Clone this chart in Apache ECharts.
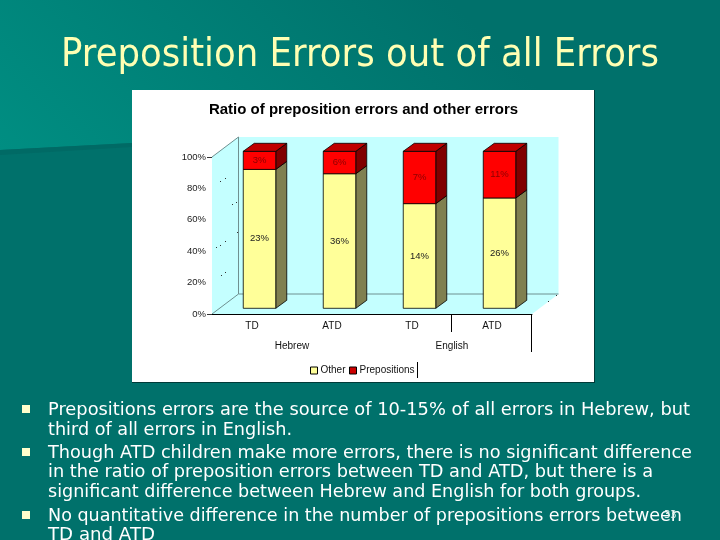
<!DOCTYPE html>
<html>
<head>
<meta charset="utf-8">
<style>html,body{margin:0;padding:0;background:#00706a}#c{width:720px;height:540px}</style>
<script src="https://cdn.jsdelivr.net/npm/echarts@6/dist/echarts.min.js"></script>
</head>
<body>
<div id="c"></div>
<script>
const groups = ['TD', 'ATD', 'TD', 'ATD'];
const languages = ['Hebrew', 'English'];
const otherErrors = [23, 36, 14, 26];
const prepositionErrors = [3, 6, 7, 11];
const yTicks = [0, 20, 40, 60, 80, 100];
const slideTitle = 'Preposition Errors out of all Errors';
const chartTitle = 'Ratio of preposition errors and other errors';
const bodyLines = [
  'Prepositions errors are the source of 10-15% of all errors in Hebrew, but',
  'third of all errors in English.',
  'Though ATD children make more errors, there is no significant difference',
  'in the ratio of preposition errors between TD and ATD, but there is a',
  'significant difference between Hebrew and English for both groups.',
  'No quantitative difference in the number of prepositions errors between',
  'TD and ATD'
];

const bodyRight = [690, 292, 692, 653, 641, 682, 155];
const bodyY = [410, 430, 453, 472, 492, 516, 535];
const bulletY = [409, 452, 515];
const TEXT_FONT = '"DejaVu Sans"';

const measure = document.createElement('canvas').getContext('2d');
function fitScale(text, font, width) {
  measure.font = font;
  return width / measure.measureText(text).width;
}
function fitText(text, x, y, size, right, fill) {
  const font = size + 'px ' + TEXT_FONT;
  return {
    type: 'text', x: x, y: y, z: 50, silent: true,
    scaleX: fitScale(text, font, right - x),
    style: { text: text, font: font, fill: fill, textVerticalAlign: 'middle', textAlign: 'left' }
  };
}

// 3D depth of the box and of the chart's walls
const BAR = { dx: 11, dy: -8, shiftX: 7.5, shiftY: -5.7, width: 32.5 };
const WALL = { dx: 26.5, dy: -20 };

function barRenderer(front, side, top, labelColor, withTop) {
  return function (params, api) {
    const i = api.value(0);
    const a = api.coord([i, api.value(1)]);
    const b = api.coord([i, api.value(2)]);
    const x0 = a[0] + BAR.shiftX - BAR.width / 2;
    const x1 = x0 + BAR.width;
    const y0 = a[1] + BAR.shiftY;
    const y1 = b[1] + BAR.shiftY;
    const stroke = { stroke: '#000', lineWidth: 0.8 };
    const children = [
      { type: 'polygon', shape: { points: [[x1, y0], [x1 + BAR.dx, y0 + BAR.dy], [x1 + BAR.dx, y1 + BAR.dy], [x1, y1]] },
        style: Object.assign({ fill: side }, stroke) },
      { type: 'rect', shape: { x: x0, y: y1, width: BAR.width, height: y0 - y1 },
        style: Object.assign({ fill: front }, stroke) },
      { type: 'text', x: x0 + BAR.width / 2, y: (y0 + y1) / 2, z2: 5,
        style: { text: api.value(3) + '%', fill: labelColor, font: '9.5px "Liberation Sans"', textAlign: 'center', textVerticalAlign: 'middle' } }
    ];
    if (withTop) {
      children.push({ type: 'polygon', shape: { points: [[x0, y1], [x0 + BAR.dx, y1 + BAR.dy], [x1 + BAR.dx, y1 + BAR.dy], [x1, y1]] },
        style: Object.assign({ fill: top }, stroke) });
    }
    return { type: 'group', children: children };
  };
}

const otherData = groups.map((g, i) => {
  const total = otherErrors[i] + prepositionErrors[i];
  return [i, 0, otherErrors[i] / total * 100, otherErrors[i]];
});
const prepData = groups.map((g, i) => {
  const total = otherErrors[i] + prepositionErrors[i];
  return [i, otherErrors[i] / total * 100, 100, prepositionErrors[i]];
});

const gx0 = 212, gx1 = 532, gy0 = 157, gy1 = 314;
const wallFill = '#C4FFFF';
const wallLine = '#6F9090';

const specks = [[220, 181], [225, 178], [232, 204], [236, 202], [237, 232], [216, 247], [220, 245], [225, 241], [221, 275], [225, 272], [548, 301], [556, 295]];

function line(x1, y1, x2, y2, color, z) {
  return { type: 'line', z: z, silent: true, shape: { x1, y1, x2, y2 }, style: { stroke: color, lineWidth: 1 } };
}

const graphics = [
  { type: 'rect', z: -30, silent: true, shape: { x: 0, y: 0, width: 720, height: 540 }, style: { fill: '#00716B' } },
  { type: 'polygon', z: -29, silent: true, shape: { points: [[0, 0], [720, 0], [720, 112], [0, 150]] },
    style: { fill: { type: 'linear', global: true, x: 0, y: 150, x2: 300, y2: -150, colorStops: [{ offset: 0, color: '#008E82' }, { offset: 1, color: '#00716B' }] } } },
  { type: 'polygon', z: -28, silent: true, shape: { points: [[0, 150], [132, 143], [132, 147], [0, 155]] }, style: { fill: '#006A65' } },
  { type: 'rect', z: -27, silent: true, shape: { x: 132, y: 90, width: 462, height: 292 }, style: { fill: '#FFFFFF' } },
  line(594.5, 90, 594.5, 382, '#003A38', -26),
  line(132, 382.5, 595, 382.5, '#003A38', -26),
  { type: 'polygon', z: -25, silent: true, shape: { points: [[gx0, gy0], [gx0 + WALL.dx, gy0 + WALL.dy], [gx1 + WALL.dx, gy0 + WALL.dy], [gx1 + WALL.dx, gy1 + WALL.dy], [gx1, gy1], [gx0, gy1]] }, style: { fill: wallFill } },
  line(gx0, gy0, gx0 + WALL.dx, gy0 + WALL.dy, wallLine, -24),
  line(gx0, gy1, gx0 + WALL.dx, gy1 + WALL.dy, wallLine, -24),
  line(gx0 + WALL.dx, gy0 + WALL.dy, gx0 + WALL.dx, gy1 + WALL.dy, wallLine, -24),
  line(gx0 + WALL.dx, gy1 + WALL.dy, gx1 + WALL.dx, gy1 + WALL.dy, wallLine, -24),
  line(451.5, gy1, 451.5, 332, '#000', 10),
  line(531.5, gy1, 531.5, 352, '#000', 10),
  line(417.5, 362, 417.5, 378, '#000', 10),
  fitText(slideTitle, 61, 56, 38.5, 659, '#FFFFB3')
];
specks.forEach(p => graphics.push({ type: 'rect', z: -20, silent: true, shape: { x: p[0], y: p[1], width: 1, height: 1 }, style: { fill: '#333' } }));
bodyLines.forEach((t, i) => graphics.push(fitText(t, 48, bodyY[i], 18.3, bodyRight[i], '#FFFFFF')));
bulletY.forEach(y => graphics.push({ type: 'rect', z: 50, silent: true, shape: { x: 22, y: y - 4, width: 8, height: 8 }, style: { fill: '#FFFFCC' } }));
graphics.push({ type: 'text', x: 664, y: 515, z: 51, silent: true, style: { text: '33', font: '10px "DejaVu Sans"', fill: '#D8EEE8', textVerticalAlign: 'middle' } });

const chart = echarts.init(document.getElementById('c'), null, { renderer: 'canvas' });
chart.setOption({
  animation: false,
  title: {
    text: chartTitle, left: 358.5, top: 97, textAlign: 'center',
    textStyle: { fontFamily: 'Liberation Sans', fontWeight: 'bold', fontSize: 15, color: '#000' }
  },
  legend: {
    left: 305, top: 360.5, itemWidth: 7, itemHeight: 7, itemGap: 3.5, icon: 'rect',
    textStyle: { fontFamily: 'Liberation Sans', fontSize: 10, color: '#111', padding: [0, 0, 0, -2] },
    data: [
      { name: 'Other', itemStyle: { color: '#FFFF99', borderColor: '#000', borderWidth: 1 } },
      { name: 'Prepositions', itemStyle: { color: '#CC0000', borderColor: '#000', borderWidth: 1 } }
    ]
  },
  grid: { left: gx0, top: gy0, width: gx1 - gx0, height: gy1 - gy0 },
  xAxis: [
    { type: 'category', data: groups, position: 'bottom',
      axisLine: { lineStyle: { color: '#000', width: 1 } }, axisTick: { show: false },
      axisLabel: { margin: 7, color: '#111', fontSize: 10, fontFamily: 'Liberation Sans' } },
    { type: 'category', data: languages, position: 'bottom', offset: 20,
      axisLine: { show: false }, axisTick: { show: false },
      axisLabel: { margin: 7, color: '#111', fontSize: 10, fontFamily: 'Liberation Sans' } }
  ],
  yAxis: {
    type: 'value', min: yTicks[0], max: yTicks[yTicks.length - 1], interval: yTicks[1] - yTicks[0],
    splitLine: { show: false }, axisLine: { show: false },
    axisTick: { show: true, length: 5, customValues: [0, 100], lineStyle: { color: '#333' } },
    axisLabel: { margin: 6, color: '#222', fontSize: 9.5, fontFamily: 'Liberation Sans', formatter: '{value}%' }
  },
  series: [
    { name: 'Other', type: 'custom', xAxisIndex: 0, z: 3, data: otherData, itemStyle: { color: '#FFFF99' },
      encode: { x: 0, y: [1, 2] }, clip: false,
      renderItem: barRenderer('#FFFF99', '#808050', '#FFFF99', '#222', false) },
    { name: 'Prepositions', type: 'custom', xAxisIndex: 0, z: 4, data: prepData, itemStyle: { color: '#CC0000' },
      encode: { x: 0, y: [1, 2] }, clip: false,
      renderItem: barRenderer('#FF0000', '#800000', '#C00000', '#8A0000', true) }
  ],
  graphic: { elements: graphics }
});
</script>
</body>
</html>
